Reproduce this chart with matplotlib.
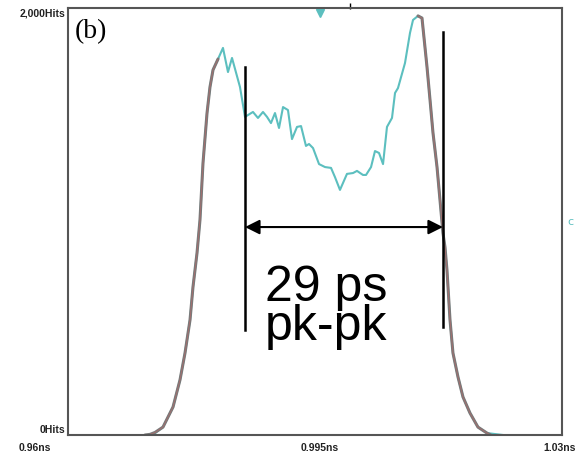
import matplotlib.pyplot as plt
import numpy as np

# measured histogram (cyan), time in ns, counts in hits
t_meas = [0.97162, 0.97233, 0.97346, 0.97488, 0.97587, 0.97658, 0.97729, 0.97771,
          0.97828, 0.97870, 0.97913, 0.97970, 0.98012, 0.98055, 0.98126, 0.98196,
          0.98267, 0.98324, 0.98437, 0.98508, 0.98621, 0.98692, 0.98763, 0.98820,
          0.98876, 0.98933, 0.98990, 0.99047, 0.99117, 0.99174, 0.99245, 0.99302,
          0.99372, 0.99415, 0.99472, 0.99557, 0.99642, 0.99727, 0.99783, 0.99854,
          0.99953, 1.00039, 1.00095, 1.00180, 1.00223, 1.00294, 1.00350, 1.00407,
          1.00464, 1.00520, 1.00591, 1.00634, 1.00676, 1.00775, 1.00846, 1.00889,
          1.00960, 1.01016, 1.01087, 1.01130, 1.01172, 1.01229, 1.01271, 1.01313,
          1.01342, 1.01370, 1.01413, 1.01455, 1.01526, 1.01597, 1.01696, 1.01809,
          1.01937, 1.02164]
h_meas = [0, 9, 37, 131, 258, 384, 539, 693,
          852, 1007, 1274, 1508, 1630, 1710, 1761, 1813,
          1700, 1766, 1630, 1490, 1513, 1485, 1513, 1490,
          1461, 1508, 1438, 1536, 1522, 1386, 1443, 1447,
          1354, 1363, 1344, 1269, 1255, 1251, 1208, 1148,
          1223, 1227, 1237, 1218, 1218, 1255, 1330, 1321,
          1269, 1443, 1485, 1602, 1625, 1742, 1883, 1944,
          1963, 1953, 1724, 1569, 1415, 1255, 1101, 946,
          880, 773, 539, 384, 272, 178, 103, 37,
          9, 0]

# fitted tails (grey / red)
t_fit_left = [0.97091, 0.97162, 0.97233, 0.97346, 0.97488, 0.97587, 0.97658,
              0.97729, 0.97771, 0.97828, 0.97870, 0.97913, 0.97970, 0.98012,
              0.98055, 0.98126]
h_fit_left = [0, 3, 12, 37, 131, 258, 384, 539, 693, 852, 1007, 1274, 1508,
              1630, 1710, 1761]
t_fit_right = [1.00960, 1.01016, 1.01087, 1.01130, 1.01172, 1.01229, 1.01271,
               1.01313, 1.01342, 1.01370, 1.01413, 1.01455, 1.01526, 1.01597,
               1.01696, 1.01809, 1.01937, 1.01990]
h_fit_right = [1963, 1953, 1724, 1569, 1415, 1255, 1101, 946, 880, 773, 539,
               384, 272, 178, 103, 37, 9, 0]

xtick_vals = ['0.96ns', '0.995ns', '1.03ns']
ytick_vals = ['0Hits', '2,000Hits']

marker_t = 0.99571
top_tick_t = 0.99995
left_cursor = 0.98508
right_cursor = 1.01313
cyan = '#5cbfbf'

fig = plt.figure(figsize=(5.75, 4.54), dpi=100)
ax = fig.add_axes([68/575, 19/454, 494/575, 427/454])
ax.set_xlim(0.96, 1.03)
ax.set_ylim(0, 2000)
ax.set_xticks([])
ax.set_yticks([])
for s in ax.spines.values():
    s.set_color('#555555')
    s.set_linewidth(1.5)

ax.plot(t_meas, h_meas, color=cyan, lw=1.5)
for tt, hh in [(t_fit_left, h_fit_left), (t_fit_right, h_fit_right)]:
    ax.plot(tt, hh, color='#7a7a7a', lw=2.2, solid_capstyle='round')
    ax.plot(tt, hh, color='#d06060', lw=0.5, alpha=0.6)

ax.plot([marker_t], [1978], marker='v', color=cyan, ms=6, clip_on=False)
ax.plot([top_tick_t], [2008], marker='|', color='black', ms=4, clip_on=False)

# cursors and pk-pk arrow
ax.plot([left_cursor, left_cursor], [492, 1724], color='black', lw=1.8)
ax.plot([right_cursor, right_cursor], [506, 1888], color='black', lw=1.8)
ax.annotate('', xy=(left_cursor, 974), xytext=(right_cursor, 974),
            arrowprops=dict(arrowstyle='<|-|>', color='black', lw=1.5,
                            mutation_scale=22, shrinkA=0, shrinkB=0))
ax.text(0.047, 0.975, '(b)', transform=ax.transAxes, ha='center', va='top',
        family='Liberation Serif', fontsize=20)
ax.text(0.522, 0.222, '29 ps\npk-pk', transform=ax.transAxes, ha='center',
        va='baseline', multialignment='center', linespacing=0.8,
        family='Liberation Sans', fontsize=36)

# instrument-style axis labels
lab = dict(family='Liberation Sans', fontsize=7.5, fontweight='bold', color='#222222')
fig.text(65/575, 1 - 14/454, ytick_vals[1], ha='right', va='center', **lab)
fig.text(65/575, 1 - 430/454, ytick_vals[0], ha='right', va='center', **lab)
for x, s in zip([35, 320, 560], xtick_vals):
    fig.text(x/575, 1 - 448/454, s, ha='center', va='center', **lab)
fig.text(570/575, 1 - 222/454, 'c', ha='center', va='center', color=cyan, fontsize=8)

fig.savefig('out.png', dpi=100)
